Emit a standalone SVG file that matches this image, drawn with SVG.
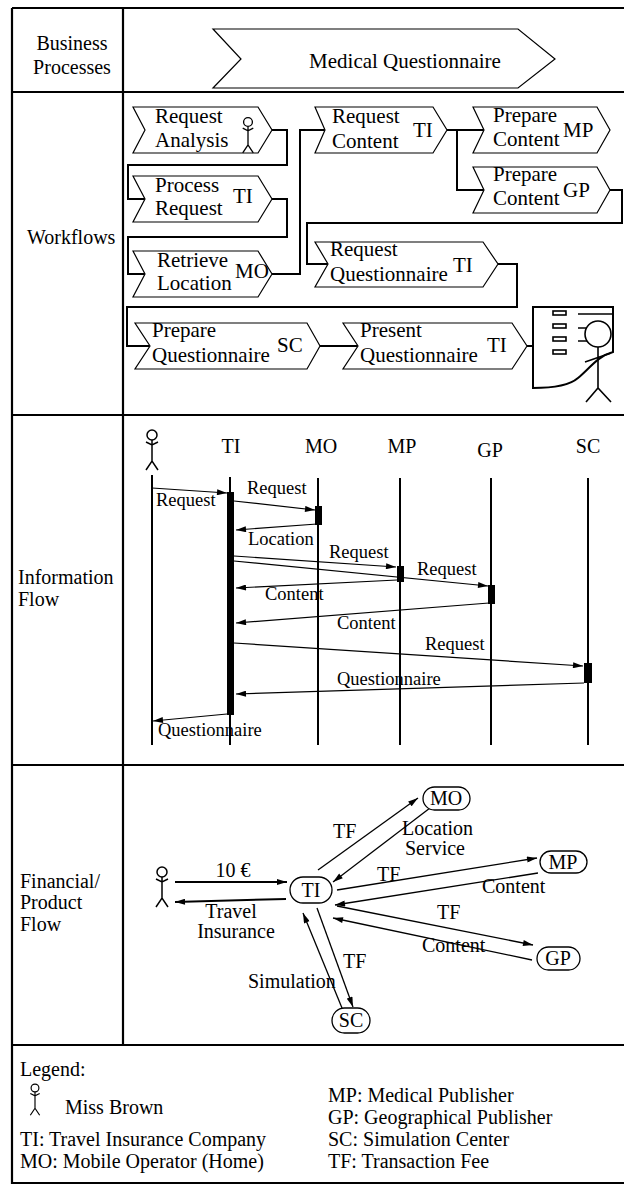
<svg xmlns="http://www.w3.org/2000/svg" width="624" height="1189" viewBox="0 0 624 1189">
<style>
  text { font-family: "Liberation Serif", "Times New Roman", serif; font-size: 20px; fill: #000; }
  .mid { text-anchor: middle; }
  .wf { font-size: 21px; }
  .lbl { font-size: 18.5px; }
  .grid { stroke: #000; stroke-width: 2.2; fill: none; }
  .chev { fill: #fff; stroke: #000; stroke-width: 1.2; }
  .wire { fill: none; stroke: #000; stroke-width: 2; }
  .life { stroke: #000; stroke-width: 2; }
  .act { fill: #000; }
  .msg { fill: none; stroke: #000; stroke-width: 1.2; marker-end: url(#ah); }
  .flow { fill: none; stroke: #000; stroke-width: 1.3; marker-end: url(#ah); }
  .flowb { fill: none; stroke: #000; stroke-width: 2; marker-end: url(#ah); }
  .node { fill: #fff; stroke: #000; stroke-width: 1.3; }
  .ico { fill: none; stroke: #000; stroke-width: 2; }
</style>
<defs>
  <marker id="ah" viewBox="0 0 10 6" refX="10" refY="3" markerWidth="11" markerHeight="6" markerUnits="userSpaceOnUse" orient="auto">
    <path d="M0,0 L10,3 L0,6 Z" fill="#000"/>
  </marker>
  <!-- stick figure, head centred on the origin -->
  <g id="person" fill="none" stroke="#000" stroke-width="1.5">
    <circle cx="0" cy="0" r="5"/>
    <path d="M-6,7 L0,10 L6,7 M0,5 V26 M-6,35 L0,26 L6,35"/>
  </g>
</defs>

<!-- table frame -->
<g id="frame" class="grid">
  <path d="M12,8 H624 M12,8 V1183 H624 M123,8 V1045 M12,92 H624 M12,415 H624 M12,765 H624 M12,1045 H624"/>
</g>

<!-- row labels -->
<g id="row-labels">
  <text class="mid" x="72" y="50">Business</text>
  <text class="mid" x="72" y="74">Processes</text>
  <text x="27" y="244">Workflows</text>
  <text x="18" y="584">Information</text>
  <text x="18" y="606">Flow</text>
  <text x="20" y="888">Financial/</text>
  <text x="20" y="909">Product</text>
  <text x="20" y="931">Flow</text>
</g>

<!-- business process -->
<g id="bp-medical-questionnaire">
  <polygon class="chev" points="213,29 518,29 555,59 518,88 213,88 241,59"/>
  <text class="mid wf" x="405" y="68">Medical Questionnaire</text>
</g>

<!-- workflow connectors -->
<g id="wf-connectors" class="wire">
  <path d="M272,130 H287 V165 H128 V199 H145"/>
  <path d="M272,199 H287 V237 H128 V274 H145"/>
  <path d="M272,274 H300 V130 H325"/>
  <path d="M447,130 H484 M457,130 V190 H484"/>
  <path d="M610,190 H622 V223 H307 V264 H328"/>
  <path d="M498,264 H517 V307 H127 V346 H150"/>
  <path d="M320,346 H358"/>
  <path d="M527,346 H535"/>
</g>

<!-- workflow steps -->
<g id="wf-request-analysis" class="wf">
  <polygon class="chev" points="133,107 258,107 272,130 258,153 133,153 145,130"/>
  <text class="wf" x="155" y="123">Request</text>
  <text class="wf" x="155" y="147">Analysis</text>
  <use href="#person" transform="translate(248,122) scale(0.88)"/>
</g>
<g id="wf-process-request">
  <polygon class="chev" points="133,176 258,176 272,199 258,222 133,222 145,199"/>
  <text class="wf" x="155" y="192">Process</text>
  <text class="wf" x="155" y="215">Request</text>
  <text class="wf" x="233" y="203">TI</text>
</g>
<g id="wf-retrieve-location">
  <polygon class="chev" points="133,251 258,251 272,274 258,297 133,297 145,274"/>
  <text class="wf" x="157" y="267">Retrieve</text>
  <text class="wf" x="157" y="290">Location</text>
  <text class="wf" x="235" y="278">MO</text>
</g>
<g id="wf-request-content">
  <polygon class="chev" points="315,107 433,107 447,130 433,153 315,153 325,130"/>
  <text class="wf" x="332" y="123">Request</text>
  <text class="wf" x="332" y="148">Content</text>
  <text class="wf" x="413" y="137">TI</text>
</g>
<g id="wf-prepare-content-mp">
  <polygon class="chev" points="473,107 597,107 610,130 597,153 473,153 484,130"/>
  <text class="wf" x="493" y="122">Prepare</text>
  <text class="wf" x="493" y="146">Content</text>
  <text class="wf" x="563" y="137">MP</text>
</g>
<g id="wf-prepare-content-gp">
  <polygon class="chev" points="473,167 597,167 610,190 597,213 473,213 484,190"/>
  <text class="wf" x="493" y="181">Prepare</text>
  <text class="wf" x="493" y="205">Content</text>
  <text class="wf" x="563" y="197">GP</text>
</g>
<g id="wf-request-questionnaire">
  <polygon class="chev" points="315,242 483,242 498,264 483,287 315,287 328,264"/>
  <text class="wf" x="330" y="256">Request</text>
  <text class="wf" x="330" y="281">Questionnaire</text>
  <text class="wf" x="453" y="272">TI</text>
</g>
<g id="wf-prepare-questionnaire">
  <polygon class="chev" points="135,323 307,323 320,346 307,369 135,369 150,346"/>
  <text class="wf" x="152" y="337">Prepare</text>
  <text class="wf" x="152" y="362">Questionnaire</text>
  <text class="wf" x="277" y="352">SC</text>
</g>
<g id="wf-present-questionnaire">
  <polygon class="chev" points="343,323 512,323 527,346 512,369 343,369 358,346"/>
  <text class="wf" x="360" y="337">Present</text>
  <text class="wf" x="360" y="362">Questionnaire</text>
  <text class="wf" x="487" y="352">TI</text>
</g>
<g id="wf-questionnaire-form" class="ico">
  <path d="M533,307 H613 V352 C598,356 590,368 578,378 C570,385 555,388 533,388 Z" fill="#fff"/>
  <rect x="553" y="311" width="13" height="4" stroke-width="1.6"/>
  <rect x="553" y="324" width="13" height="4" stroke-width="1.6"/>
  <rect x="553" y="337" width="13" height="4" stroke-width="1.6"/>
  <rect x="553" y="350" width="13" height="4" stroke-width="1.6"/>
  <path d="M578,314 H612 M578,328 H587 M578,341 H587" stroke-width="1.6"/>
  <circle cx="598" cy="334" r="13" stroke-width="1.6"/>
  <path d="M598,347 V388 M585,362 L611,353 M586,402 L598,388 L611,402" stroke-width="1.6"/>
</g>

<!-- information flow: participants -->
<g id="if-customer">
  <use href="#person" transform="translate(152,435)"/>
  <line class="life" x1="152" y1="475" x2="152" y2="745"/>
</g>
<g id="if-ti">
  <text class="mid" x="231" y="453">TI</text>
  <line class="life" x1="230" y1="477" x2="230" y2="745"/>
  <rect class="act" x="227" y="492" width="7" height="223"/>
</g>
<g id="if-mo">
  <text class="mid" x="321" y="453">MO</text>
  <line class="life" x1="318" y1="478" x2="318" y2="745"/>
  <rect class="act" x="315" y="506" width="7" height="19"/>
</g>
<g id="if-mp">
  <text class="mid" x="402" y="453">MP</text>
  <line class="life" x1="400" y1="478" x2="400" y2="745"/>
  <rect class="act" x="397" y="566" width="7" height="16"/>
</g>
<g id="if-gp">
  <text class="mid" x="490" y="457">GP</text>
  <line class="life" x1="491" y1="478" x2="491" y2="745"/>
  <rect class="act" x="488" y="585" width="7" height="19"/>
</g>
<g id="if-sc">
  <text class="mid" x="588" y="453">SC</text>
  <line class="life" x1="588" y1="478" x2="588" y2="745"/>
  <rect class="act" x="584" y="663" width="8" height="20"/>
</g>

<!-- information flow: messages -->
<g id="if-messages">
  <path class="msg" d="M152,488 L227,493"/>
  <path class="msg" d="M234,501 L315,510"/>
  <path class="msg" d="M317,524 L236,530"/>
  <path class="msg" d="M234,556 L396,567"/>
  <path class="msg" d="M234,561 L488,586"/>
  <path class="msg" d="M397,580 L236,588"/>
  <path class="msg" d="M489,603 L236,623"/>
  <path class="msg" d="M234,643 L583,666"/>
  <path class="msg" d="M584,683 L236,694"/>
  <path class="msg" d="M227,714 L153,721"/>
  <text class="lbl" x="156" y="506">Request</text>
  <text class="lbl" x="247" y="494">Request</text>
  <text class="lbl" x="248" y="545">Location</text>
  <text class="lbl" x="329" y="558">Request</text>
  <text class="lbl" x="417" y="575">Request</text>
  <text class="lbl" x="265" y="600">Content</text>
  <text class="lbl" x="337" y="629">Content</text>
  <text class="lbl" x="425" y="650">Request</text>
  <text class="lbl" x="337" y="685">Questionnaire</text>
  <text class="lbl" x="158" y="736">Questionnaire</text>
</g>

<!-- financial / product flow: connectors -->
<g id="fp-connectors">
  <path class="flowb" d="M175,882 L287,882"/>
  <path class="flowb" d="M286,899 L175,902"/>
  <path class="flow" d="M318,870 L418,798"/>
  <path class="flow" d="M430,808 L333,882"/>
  <path class="flow" d="M337,890 L537,858"/>
  <path class="flow" d="M538,873 L335,905"/>
  <path class="flow" d="M337,906 L533,945"/>
  <path class="flow" d="M532,960 L333,918"/>
  <path class="flow" d="M317,908 L353,1007"/>
  <path class="flow" d="M342,1008 L303,913"/>
  <text class="mid" x="233" y="877">10 €</text>
  <text class="mid" x="231" y="918">Travel</text>
  <text class="mid" x="236" y="938">Insurance</text>
  <text x="333" y="838">TF</text>
  <text x="402" y="835">Location</text>
  <text x="405" y="855">Service</text>
  <text x="377" y="881">TF</text>
  <text x="482" y="893">Content</text>
  <text x="437" y="919">TF</text>
  <text x="422" y="952">Content</text>
  <text x="343" y="968">TF</text>
  <text x="248" y="988">Simulation</text>
</g>

<!-- financial / product flow: parties -->
<g id="fp-customer">
  <use href="#person" transform="translate(162,872)"/>
</g>
<g id="fp-ti">
  <rect class="node" x="290" y="877" width="42" height="26" rx="13"/>
  <text class="mid" x="311" y="897">TI</text>
</g>
<g id="fp-mo">
  <rect class="node" x="423" y="787" width="47" height="23" rx="11.5"/>
  <text class="mid" x="446" y="805">MO</text>
</g>
<g id="fp-mp">
  <rect class="node" x="540" y="851" width="47" height="22" rx="11"/>
  <text class="mid" x="563" y="869">MP</text>
</g>
<g id="fp-gp">
  <rect class="node" x="537" y="947" width="43" height="23" rx="11.5"/>
  <text class="mid" x="558" y="965">GP</text>
</g>
<g id="fp-sc">
  <rect class="node" x="332" y="1008" width="38" height="25" rx="12.5"/>
  <text class="mid" x="351" y="1027">SC</text>
</g>

<!-- legend -->
<g id="legend">
  <text x="20" y="1076">Legend:</text>
  <use href="#person" transform="translate(35,1088) scale(0.78)"/>
  <text x="65" y="1114">Miss Brown</text>
  <text x="20" y="1146">TI: Travel Insurance Company</text>
  <text x="20" y="1168">MO: Mobile Operator (Home)</text>
  <text x="328" y="1102">MP: Medical Publisher</text>
  <text x="328" y="1124">GP: Geographical Publisher</text>
  <text x="328" y="1146">SC: Simulation Center</text>
  <text x="328" y="1168">TF: Transaction Fee</text>
</g>
</svg>
